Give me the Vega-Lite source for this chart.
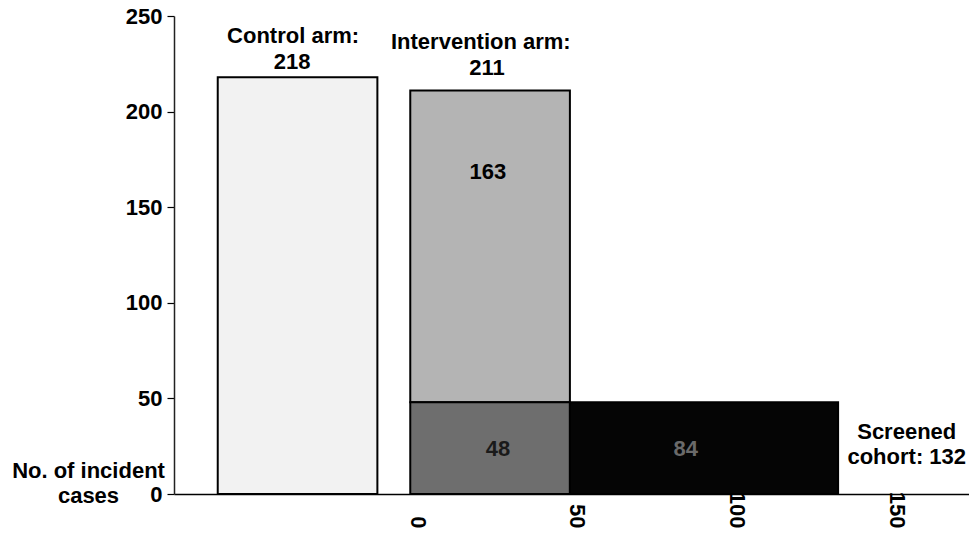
{
  "$schema": "https://vega.github.io/schema/vega-lite/v6.json",
  "width": 795,
  "height": 478,
  "autosize": "none",
  "padding": {"left": 174, "top": 16, "right": 0, "bottom": 41},
  "background": "white",
  "config": {"view": {"stroke": null}, "font": "Liberation Sans"},
  "datasets": {
    "bars": [
      {"segment": "Control arm", "x0": -60.3, "x1": -10.3, "y0": 0, "y1": 218},
      {"segment": "Intervention arm, not screened", "x0": 0, "x1": 50, "y0": 48, "y1": 211},
      {"segment": "Intervention arm, screened", "x0": 0, "x1": 50, "y0": 0, "y1": 48},
      {"segment": "Screened cohort only", "x0": 50, "x1": 134, "y0": 0, "y1": 48}
    ],
    "labels": [
      {"label": "Control arm:", "x": -36.7, "y": 239.5, "tone": "plain"},
      {"label": "218", "x": -37, "y": 225.9, "tone": "plain"},
      {"label": "Intervention arm:", "x": 22.1, "y": 236.4, "tone": "plain"},
      {"label": "211", "x": 24, "y": 222.8, "tone": "plain"},
      {"label": "163", "x": 24.3, "y": 168.4, "tone": "plain"},
      {"label": "48", "x": 27.5, "y": 23.5, "tone": "on dark"},
      {"label": "84", "x": 86.3, "y": 23.5, "tone": "on black"},
      {"label": "Screened", "x": 155.5, "y": 32.4, "tone": "plain"},
      {"label": "cohort: 132", "x": 155.5, "y": 19.4, "tone": "plain"}
    ]
  },
  "layer": [
    {
      "data": {"name": "bars"},
      "mark": {"type": "rect", "stroke": "black", "strokeWidth": 2},
      "encoding": {
        "x": {
          "field": "x0", "type": "quantitative",
          "scale": {"domain": [-74, 175], "nice": false, "zero": false},
          "axis": {
            "values": [0, 50, 100, 150], "labelAngle": 90, "labelAlign": "right", "labelBaseline": "alphabetic",
            "ticks": false, "tickSize": 0, "labelPadding": 34, "grid": false, "labelFlush": false, "labelOverlap": false,
            "domainColor": "black", "domainWidth": 1.5,
            "labelFontSize": 22, "labelFontWeight": "bold", "labelColor": "black", "title": null
          }
        },
        "x2": {"field": "x1"},
        "y": {
          "field": "y0", "type": "quantitative",
          "scale": {"domain": [0, 250], "nice": false},
          "axis": {
            "values": [0, 50, 100, 150, 200, 250], "ticks": true, "tickSize": 7, "tickColor": "black", "tickWidth": 1.2,
            "domainColor": "#222", "domainWidth": 1.5, "grid": false, "labelFlush": false, "labelOverlap": false,
            "labelFontSize": 22, "labelFontWeight": "bold", "labelColor": "black", "labelPadding": 5,
            "title": ["No. of incident", "cases"], "titleAngle": 0, "titleAlign": "center", "titleBaseline": "top",
            "titleX": -86, "titleY": 444, "titleFontSize": 22, "titleFontWeight": "bold", "titleLineHeight": 25, "titleColor": "black"
          }
        },
        "y2": {"field": "y1"},
        "fill": {
          "field": "segment", "type": "nominal",
          "scale": {
            "domain": ["Control arm", "Intervention arm, not screened", "Intervention arm, screened", "Screened cohort only"],
            "range": ["#f2f2f2", "#b4b4b4", "#6e6e6e", "#050505"]
          },
          "legend": null
        }
      }
    },
    {
      "data": {"name": "labels"},
      "mark": {"type": "text", "fontSize": 22, "fontWeight": "bold", "baseline": "middle", "align": "center"},
      "encoding": {
        "x": {"field": "x", "type": "quantitative"},
        "y": {"field": "y", "type": "quantitative"},
        "text": {"field": "label"},
        "color": {
          "field": "tone", "type": "nominal",
          "scale": {"domain": ["plain", "on dark", "on black"], "range": ["#000000", "#1a1a1a", "#6a6a6a"]},
          "legend": null
        }
      }
    }
  ]
}
